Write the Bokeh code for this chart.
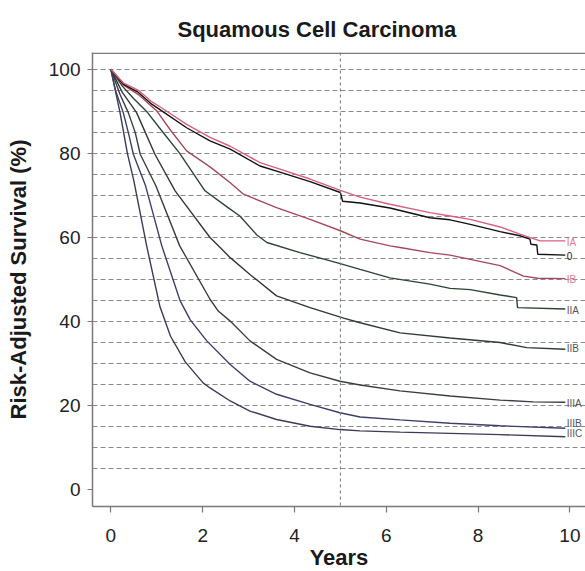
from bokeh.plotting import figure
from bokeh.models import ColumnDataSource, FixedTicker, Span, Range1d
from bokeh.core.properties import value
from bokeh.embed import file_html
from bokeh.resources import INLINE

# ---- data ----
stages = ["IA", "0", "IB", "IIA", "IIB", "IIIA", "IIIB", "IIIC"]

t_IA = [0, 0.27, 0.6, 0.89, 1.11, 1.65, 2.16, 2.6, 3.25, 3.7, 4.34, 5.0, 5.43, 6.08, 6.95, 7.39, 7.83, 8.48, 8.91, 9.35, 9.9]
s_IA = [100, 96.8, 95.0, 92.3, 90.8, 86.9, 83.8, 81.7, 77.8, 76.2, 73.9, 71.2, 69.6, 67.9, 65.9, 65.1, 64.3, 62.5, 60.8, 59.2, 59.2]

t_0 = [0, 0.27, 0.6, 0.89, 1.11, 1.65, 2.16, 2.6, 3.25, 3.7, 4.34, 5.0, 5.05, 5.43, 6.08, 6.95, 7.39, 7.83, 8.48, 8.91, 9.13, 9.15, 9.28, 9.3, 9.9]
s_0 = [100, 96.5, 94.5, 91.7, 90.1, 86.1, 83.0, 81.0, 77.0, 75.5, 73.3, 70.7, 68.6, 68.2, 67.0, 64.7, 64.2, 63.1, 61.4, 60.4, 59.6, 58.4, 58.2, 56.0, 55.8]

t_IB = [0, 0.27, 0.6, 1.0, 1.3, 1.65, 2.16, 2.6, 2.89, 3.61, 4.34, 5.0, 5.43, 6.08, 6.3, 6.95, 7.39, 7.83, 8.48, 8.99, 9.3, 9.9]
s_IB = [100, 96.3, 94.0, 90.1, 85.5, 80.6, 76.8, 73.0, 70.3, 67.1, 64.3, 61.6, 59.6, 58.0, 57.6, 56.4, 55.8, 54.8, 53.3, 50.8, 50.3, 50.2]

t_IIA = [0, 0.25, 0.5, 0.8, 1.1, 1.5, 2.05, 2.5, 2.81, 3.18, 3.4, 4.12, 4.92, 5.43, 6.08, 6.95, 7.39, 7.83, 8.48, 8.84, 8.86, 9.9]
s_IIA = [100, 96, 93, 89.7, 85.5, 80, 71.1, 67.5, 65.1, 60.6, 58.8, 56.4, 54.0, 52.4, 50.4, 48.9, 47.9, 47.6, 46.3, 45.7, 43.3, 43.0]

t_IIB = [0, 0.25, 0.56, 0.75, 0.96, 1.4, 2.16, 2.38, 2.6, 3.03, 3.61, 4.34, 5.07, 5.43, 6.3, 7.39, 8.48, 9.06, 9.9]
s_IIB = [100, 94.5, 89.7, 85, 79.8, 71.1, 60, 57.6, 55.2, 51.2, 46.1, 43.3, 40.8, 39.7, 37.3, 36.1, 35.0, 33.8, 33.4]

t_IIIA = [0, 0.2, 0.38, 0.53, 0.64, 0.98, 1.5, 2.16, 2.34, 2.6, 3.03, 3.61, 4.34, 4.99, 5.43, 6.3, 7.39, 8.48, 9.2, 9.9]
s_IIIA = [100, 94, 89.7, 85, 79.8, 72.3, 58, 45.3, 42.5, 40.1, 35.4, 31.0, 27.8, 25.8, 24.9, 23.5, 22.3, 21.3, 20.9, 20.8]

t_IIIB = [0, 0.1, 0.27, 0.38, 0.49, 0.75, 1.11, 1.51, 1.73, 2.09, 2.6, 3.03, 3.61, 4.34, 4.99, 5.43, 6.3, 7.39, 8.48, 9.9]
s_IIIB = [100, 95, 89.7, 85, 79.8, 72.5, 58, 44.9, 40.4, 35.4, 29.8, 25.8, 22.7, 20.3, 18.3, 17.3, 16.6, 15.8, 15.2, 14.6]

t_IIIC = [0, 0.2, 0.36, 0.5, 0.78, 1.07, 1.3, 1.62, 2.01, 2.16, 2.6, 3.03, 3.61, 4.34, 4.99, 5.43, 6.3, 7.39, 8.48, 9.9]
s_IIIC = [100, 89.7, 80, 73.5, 58, 43.5, 36.5, 30.4, 25.4, 24.2, 21.1, 18.7, 16.7, 15.1, 14.3, 14.0, 13.7, 13.4, 13.1, 12.6]

label_y = [58.7, 55.6, 49.9, 42.7, 33.5, 20.6, 15.8, 13.3]

x_ticks = [0, 2, 4, 6, 8, 10]
y_ticks = [0, 20, 40, 60, 80, 100]

curves = {
    "IA": (t_IA, s_IA), "0": (t_0, s_0), "IB": (t_IB, s_IB),
    "IIA": (t_IIA, s_IIA), "IIB": (t_IIB, s_IIB),
    "IIIA": (t_IIIA, s_IIIA), "IIIB": (t_IIIB, s_IIIB), "IIIC": (t_IIIC, s_IIIC),
}
line_colors = {
    "IA": "#d8607c", "0": "#111111", "IB": "#a4485a", "IIA": "#2e4436",
    "IIB": "#33383a", "IIIA": "#3a3d44", "IIIB": "#3c3f66", "IIIC": "#3b3b55",
}
label_colors = {
    "IA": "#e07a8e", "0": "#222222", "IB": "#d87a8a", "IIA": "#555555",
    "IIB": "#555555", "IIIA": "#555555", "IIIB": "#555555", "IIIC": "#555555",
}

FONT = "Liberation Sans"
GRAY = "#7a7a7a"

p = figure(
    frame_width=493, frame_height=454,
    x_range=Range1d(-0.4, 10.34), y_range=Range1d(-4, 104),
    output_backend="svg", toolbar_location=None,
    min_border_left=92, min_border_right=0, min_border_top=52, min_border_bottom=0,
    background_fill_color="white", border_fill_color="white",
)
p.outline_line_color = None

# title
p.title.text = "Squamous Cell Carcinoma"
p.title.text_font = FONT
p.title.text_font_size = "22px"
p.title.text_font_style = "bold"
p.title.text_color = "#1a1a1a"
p.title.align = "left"
p.title.offset = 85
p.title.vertical_align = "top"
p.title.standoff = 18

# grid: dashed horizontal lines every 5 %
p.xgrid.visible = False
p.ygrid.ticker = FixedTicker(ticks=list(range(5, 101, 5)))
p.ygrid.grid_line_color = "#8a8a8a"
p.ygrid.grid_line_dash = "5 3"
p.ygrid.grid_line_width = 1

p.add_layout(Span(location=5, dimension="height", line_color="#777777",
                  line_dash="3 3", line_width=1))
# top edge of the plot box
p.add_layout(Span(location=103.85, dimension="width", line_color=GRAY, line_width=1.5))

# axes
for ax, ticks in ((p.xaxis[0], x_ticks), (p.yaxis[0], y_ticks)):
    ax.ticker = FixedTicker(ticks=ticks)
    ax.minor_tick_line_color = None
    ax.axis_line_color = GRAY
    ax.axis_line_width = 1.5
    ax.major_tick_line_color = GRAY
    ax.major_tick_line_width = 1.2
    ax.major_tick_in = 0
    ax.major_label_text_font = FONT
    ax.major_label_text_font_size = "19px"
    ax.major_label_text_color = "#222222"
    ax.axis_label_text_font = FONT
    ax.axis_label_text_font_size = "22px"
    ax.axis_label_text_font_style = "bold"
    ax.axis_label_text_color = "#1a1a1a"

p.xaxis[0].axis_label = "Years"
p.xaxis[0].major_tick_out = 6
p.xaxis[0].major_label_standoff = 16
p.xaxis[0].axis_label_standoff = 0

p.yaxis[0].axis_label = "Risk-Adjusted Survival (%)"
p.yaxis[0].major_tick_out = 5
p.yaxis[0].major_label_standoff = 7
p.yaxis[0].axis_label_standoff = 15

# curves
for st in ["IIIC", "IIIB", "IIIA", "IIB", "IIA", "IB", "0", "IA"]:
    t, s = curves[st]
    src = ColumnDataSource(dict(t=t, s=s))
    p.line("t", "s", source=src, line_color=line_colors[st], line_width=1.4)

lab_src = ColumnDataSource(dict(
    x=[9.93] * len(stages), y=label_y, text=stages,
    color=[label_colors[s] for s in stages],
))
p.text("x", "y", text="text", source=lab_src, text_color="color",
       text_font=value(FONT), text_font_size="10px",
       text_align="left", text_baseline="middle")

open("out.html", "w").write(file_html(p, INLINE))
